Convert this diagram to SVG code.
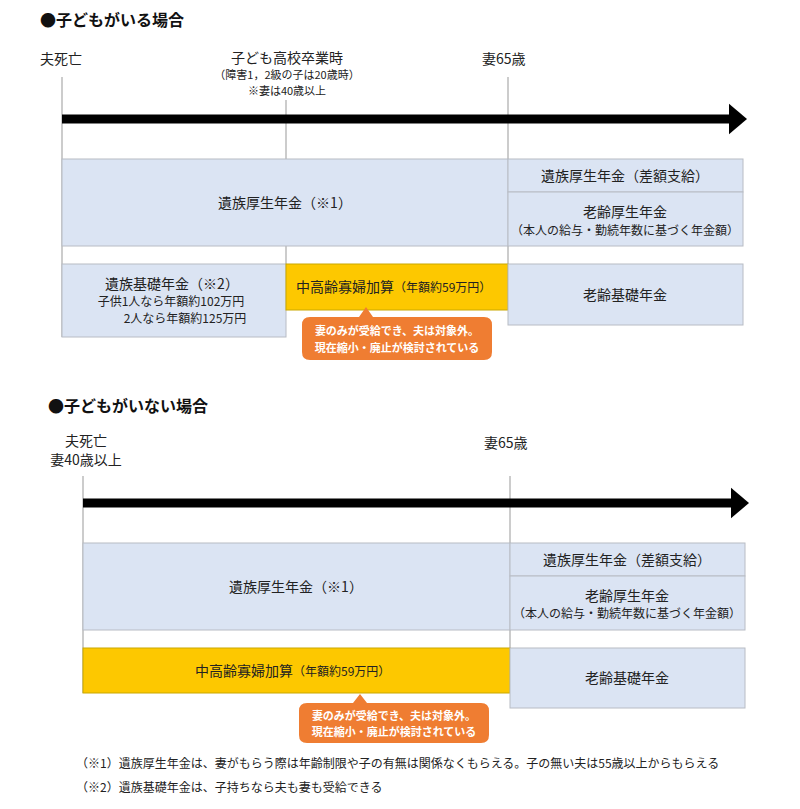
<svg xmlns="http://www.w3.org/2000/svg" width="800" height="809" viewBox="0 0 800 809">
<style>
text{font-family:"Noto Sans CJK JP","Noto Sans",sans-serif;fill:#222}
.h{font-size:16px;font-weight:bold;fill:#111}
.t{font-size:14px}
.s{font-size:12px}
.x{font-size:11px}
.c{text-anchor:middle}
.b{fill:#dbe4f3;stroke:#b8bcc4;stroke-width:1}
.y{fill:#fdc800;stroke:#c9a800;stroke-width:1}
.v{stroke:#999;stroke-width:1}
.o{fill:#ef7d32}
.w{fill:#fff;font-size:11px;font-weight:bold;text-anchor:middle}
</style>
<defs><marker id="ah" markerWidth="4" markerHeight="4" refX="1" refY="2" orient="auto" markerUnits="strokeWidth"><path d="M0,0.3L2,2L0,3.7Z" fill="#000"/></marker></defs>
<rect width="800" height="809" fill="#fff"/>
<text class="h" x="40" y="26">●子どもがいる場合</text>
<text class="t" x="40" y="64">夫死亡</text>
<text class="t c" x="287" y="63">子ども高校卒業時</text>
<text class="x c" x="287" y="79">（障害1，2級の子は20歳時）</text>
<text class="x c" x="287" y="95">※妻は40歳以上</text>
<text class="t" x="482" y="64">妻65歳</text>
<g id="connectors">
<line class="v" x1="62" y1="77" x2="62" y2="337"/>
<line class="v" x1="286" y1="100" x2="286" y2="264"/>
<line class="v" x1="508" y1="77" x2="508" y2="264"/>
<line x1="62" y1="119" x2="738" y2="119" stroke="#000" stroke-width="9" marker-end="url(#ah)"/>
<line class="v" x1="83" y1="476" x2="83" y2="693"/>
<line class="v" x1="510" y1="476" x2="510" y2="648"/>
<line x1="83" y1="503" x2="740" y2="503" stroke="#000" stroke-width="9" marker-end="url(#ah)"/>
</g>
<g id="n1"><rect class="b" x="62" y="159" width="446" height="87"/><text class="t c" x="285" y="208">遺族厚生年金（※1）</text></g>
<g id="n2"><rect class="b" x="508" y="159" width="235" height="33"/><text class="t c" x="625" y="181">遺族厚生年金（差額支給）</text></g>
<g id="n3"><rect class="b" x="508" y="192" width="235" height="54"/><text class="t c" x="625" y="217">老齢厚生年金</text><text class="s c" x="625" y="235">（本人の給与・勤続年数に基づく年金額）</text></g>
<g id="n4"><rect class="b" x="62" y="264" width="224" height="73"/><text class="t c" x="172" y="289">遺族基礎年金（※2）</text><text class="s c" x="171" y="306">子供1人なら年額約102万円</text><text class="s c" x="185" y="323">2人なら年額約125万円</text></g>
<g id="n5"><rect class="y" x="286" y="264" width="222" height="46"/><text class="t" x="296" y="292">中高齢寡婦加算<tspan class="s">（年額約59万円）</tspan></text></g>
<g id="n6"><rect class="b" x="508" y="264" width="235" height="61"/><text class="t c" x="625" y="300">老齢基礎年金</text></g>
<g id="n7"><path class="o" d="M310,317H359L366,307L373,317H484Q492,317 492,325V352Q492,360 484,360H310Q302,360 302,352V325Q302,317 310,317Z"/><text class="w" x="397" y="335">妻のみが受給でき、夫は対象外。</text><text class="w" x="397" y="352">現在縮小・廃止が検討されている</text></g>
<text class="h" x="48" y="412">●子どもがいない場合</text>
<text class="t c" x="86" y="446">夫死亡</text>
<text class="t c" x="86" y="465">妻40歳以上</text>
<text class="t" x="484" y="448">妻65歳</text>
<g id="m1"><rect class="b" x="83" y="543" width="427" height="87"/><text class="t c" x="296" y="592">遺族厚生年金（※1）</text></g>
<g id="m2"><rect class="b" x="510" y="543" width="235" height="33"/><text class="t c" x="627" y="565">遺族厚生年金（差額支給）</text></g>
<g id="m3"><rect class="b" x="510" y="576" width="235" height="54"/><text class="t c" x="627" y="601">老齢厚生年金</text><text class="s c" x="627" y="618">（本人の給与・勤続年数に基づく年金額）</text></g>
<g id="m4"><rect class="y" x="83" y="648" width="427" height="45"/><text class="t" x="195" y="676">中高齢寡婦加算<tspan class="s">（年額約59万円）</tspan></text></g>
<g id="m5"><rect class="b" x="510" y="648" width="235" height="60"/><text class="t c" x="627" y="683">老齢基礎年金</text></g>
<g id="m6"><path class="o" d="M307,703H353L360,694L367,703H481Q489,703 489,711V735Q489,743 481,743H307Q299,743 299,735V711Q299,703 307,703Z"/><text class="w" x="394" y="720">妻のみが受給でき、夫は対象外。</text><text class="w" x="394" y="736">現在縮小・廃止が検討されている</text></g>
<text class="s" x="76" y="768">（※1）遺族厚生年金は、妻がもらう際は年齢制限や子の有無は関係なくもらえる。子の無い夫は55歳以上からもらえる</text>
<text class="s" x="76" y="792">（※2）遺族基礎年金は、子持ちなら夫も妻も受給できる</text>
</svg>
